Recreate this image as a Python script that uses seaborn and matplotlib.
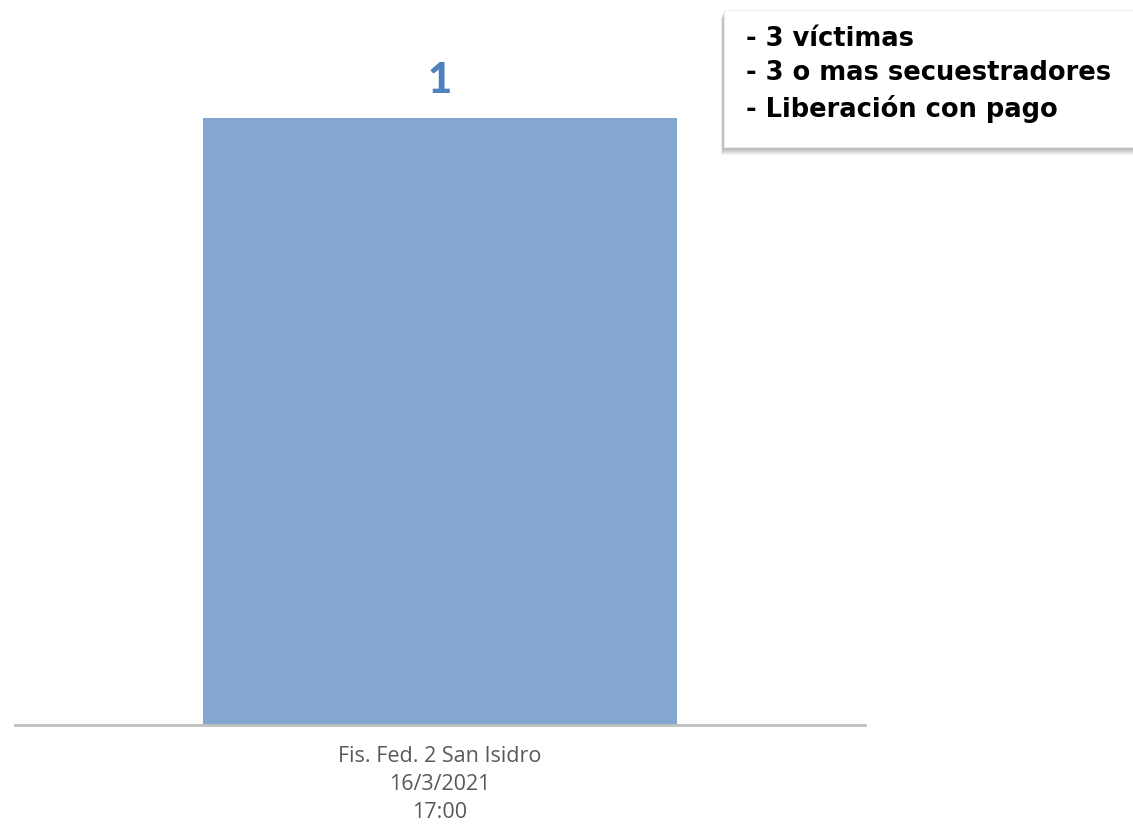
import matplotlib
matplotlib.use("Agg")
import matplotlib.pyplot as plt
import seaborn as sns
import pandas as pd
from matplotlib.patches import Rectangle

categories = ["Fis. Fed. 2 San Isidro\n16/3/2021\n17:00"]
values = [1]
notes = ["- 3 víctimas", "- 3 o mas secuestradores", "- Liberación con pago"]

sns.set_theme(style="white")
plt.rcParams['font.family'] = ['Lato', 'DejaVu Sans']

W, H = 1133, 826
fig = plt.figure(figsize=(W / 100, H / 100), dpi=100)
ax = fig.add_axes([15 / W, 101 / H, 850 / W, 705 / H])

df = pd.DataFrame({"cat": categories, "val": values})
sns.barplot(data=df, x="cat", y="val", color="#84A7CF", saturation=1,
            width=0.558, ax=ax)
for p in ax.patches:
    p.set_edgecolor("none")
ax.set_xlim(-0.5, 0.5)
ax.set_ylim(0, 705 / 607)
ax.set_xlabel("")
ax.set_ylabel("")
ax.set_yticks([])
for s in ["top", "right", "left"]:
    ax.spines[s].set_visible(False)
ax.spines["bottom"].set_color("#BFBFBF")
ax.spines["bottom"].set_linewidth(2)
ax.tick_params(axis="x", length=0, pad=15, labelsize=15.5, labelcolor="#595959")
for t in ax.get_xticklabels():
    t.set_fontfamily(["Open Sans", "DejaVu Sans"])
    t.set_linespacing(1.44)

for p, v in zip(ax.patches, values):
    ax.annotate(str(v), (p.get_x() + p.get_width() / 2, p.get_height()),
                xytext=(0, 13), textcoords="offset points", ha="center", va="bottom",
                fontsize=30, fontweight="black", color="#4F81BD")

# note box with soft shadow
for i in range(8):
    off = 8 - i
    fig.patches.append(Rectangle(((724 - off * 0.4) / W, 1 - (147 + off) / H), 420 / W, 137 / H,
                                 transform=fig.transFigure, facecolor="#000000", alpha=0.045,
                                 edgecolor="none", zorder=1))
fig.patches.append(Rectangle((724 / W, 1 - 147 / H), 420 / W, 137 / H,
                             transform=fig.transFigure, facecolor="white",
                             edgecolor="#EFEFEF", linewidth=0.8, zorder=2))
fig.text(746 / W, 1 - 26 / H, "\n".join(notes), ha="left", va="top",
         fontsize=18.5, fontweight="bold", color="#000000", linespacing=1.4, zorder=3,
         family=["DejaVu Sans"])

fig.savefig("out.png", dpi=100)
